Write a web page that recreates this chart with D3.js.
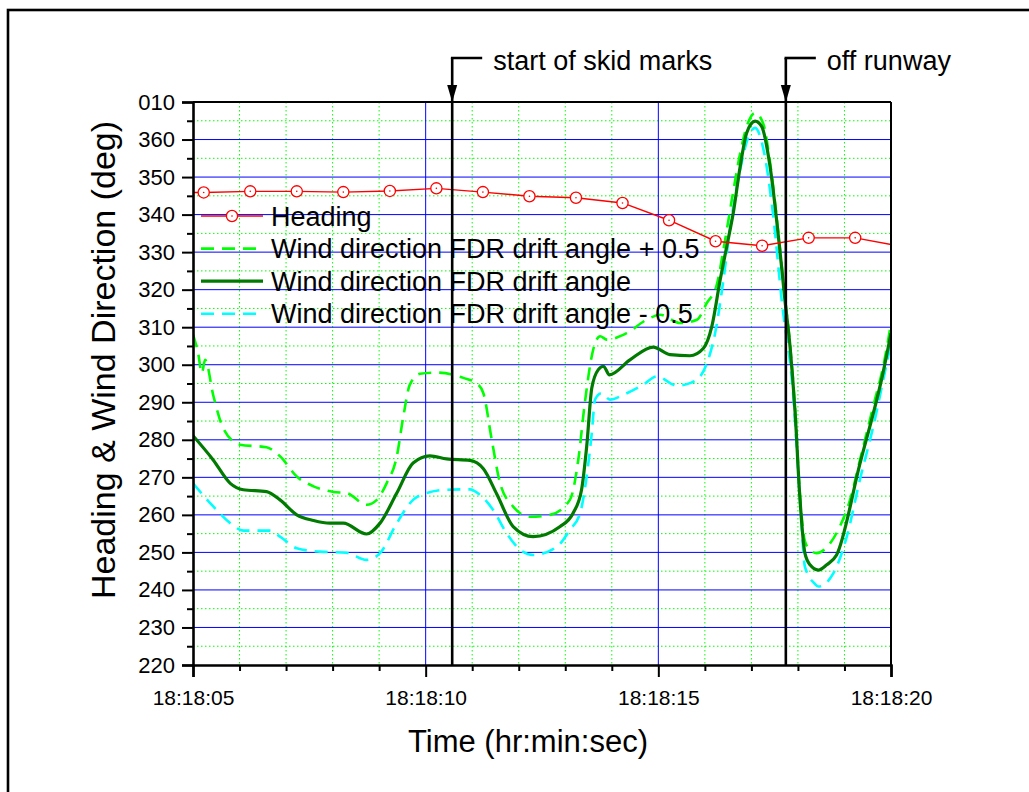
<!DOCTYPE html>
<html>
<head>
<meta charset="utf-8">
<script src="https://cdn.jsdelivr.net/npm/d3@7"></script>
<style>
  html, body { margin: 0; padding: 0; background: #fff; }
  svg { display: block; font-family: "Liberation Sans", Arial, Helvetica, sans-serif; }
</style>
</head>
<body>
<svg id="chart" width="1029" height="792"></svg>
<script>
// ---- data (time in seconds after 18:18:05, direction in degrees) ----
const startClock = "18:18:05";
const timeSpan = 15;

const headingTimes  = [-0.77, 0.23, 1.23, 2.23, 3.23, 4.23, 5.23, 6.23, 7.23, 8.23, 9.23, 10.23, 11.23, 12.23, 13.23, 14.23, 15.23];
const headingValues = [345.9, 345.9, 346.2, 346.2, 346.0, 346.3, 347.0, 346.0, 344.9, 344.5, 343.1, 338.5, 332.9, 331.7, 333.8, 333.8, 331.5];

const windDrift = [
  [0.00, 281.1], [0.43, 274.7], [0.80, 268.4], [1.08, 266.7], [1.58, 266.2], [1.87, 264.0],
  [2.23, 260.0], [2.59, 258.5], [2.94, 257.8], [3.23, 257.8], [3.73, 254.9], [4.02, 257.8],
  [4.38, 265.8], [4.73, 273.8], [5.09, 275.7], [5.45, 274.9], [5.95, 274.5], [6.24, 272.3],
  [6.53, 265.5], [6.88, 256.9], [7.31, 254.2], [7.89, 256.9], [8.17, 260.5], [8.35, 266.7],
  [8.46, 278.2], [8.57, 293.8], [8.71, 298.7], [8.82, 299.6], [8.95, 297.3], [9.39, 301.3],
  [9.89, 304.7], [10.25, 302.7], [10.68, 302.4], [10.97, 304.4], [11.15, 310.2], [11.33, 322.7],
  [11.47, 331.5], [11.61, 340.4], [11.76, 352.9], [11.90, 361.8], [12.08, 364.9], [12.22, 363.5],
  [12.40, 352.9], [12.61, 330.7], [12.72, 317.3], [12.83, 304.9], [12.94, 287.1], [13.04, 264.9],
  [13.15, 249.8], [13.26, 246.7], [13.44, 245.3], [13.62, 246.7], [13.83, 249.3], [14.33, 273.5],
  [14.84, 298.5], [15.00, 308.4]
];

const windDriftPlus = [
  [0.00, 308.0], [0.11, 303.1], [0.19, 297.8], [0.26, 301.3], [0.44, 291.6], [0.65, 283.1],
  [1.01, 278.7], [1.58, 278.0], [1.87, 275.6], [2.23, 270.2], [2.59, 267.6], [3.02, 266.1],
  [3.30, 265.8], [3.73, 262.7], [3.95, 264.0], [4.16, 268.4], [4.38, 275.6], [4.52, 286.2],
  [4.66, 294.7], [4.88, 297.6], [5.24, 297.9], [5.81, 296.5], [6.10, 295.0], [6.24, 292.4],
  [6.42, 280.0], [6.60, 268.4], [6.88, 262.2], [7.24, 259.5], [7.67, 260.0], [8.10, 264.0],
  [8.28, 274.7], [8.42, 289.8], [8.60, 304.0], [8.75, 307.6], [8.89, 306.7], [9.32, 308.4],
  [9.75, 312.0], [10.04, 313.3], [10.47, 311.1], [10.83, 312.0], [11.04, 316.4], [11.26, 321.5],
  [11.40, 330.7], [11.58, 344.0], [11.76, 356.4], [11.90, 363.5], [12.08, 367.1], [12.26, 364.0],
  [12.40, 354.0], [12.61, 331.5], [12.72, 318.0], [12.83, 305.5], [12.94, 288.0], [13.04, 266.0],
  [13.15, 253.0], [13.26, 250.7], [13.40, 249.8], [13.69, 252.4], [13.90, 256.9], [14.12, 264.0],
  [14.33, 274.5], [14.62, 289.0], [14.84, 300.0], [15.00, 311.0]
];

const windDriftMinus = [
  [0.00, 268.4], [0.44, 262.2], [0.80, 257.8], [1.08, 255.8], [1.65, 255.8], [1.87, 254.2],
  [2.23, 251.1], [2.73, 250.2], [3.30, 249.9], [3.73, 248.0], [4.02, 249.8], [4.38, 257.8],
  [4.73, 264.0], [5.02, 265.8], [5.45, 266.7], [5.95, 266.8], [6.17, 265.3], [6.45, 261.3],
  [6.74, 255.1], [7.03, 250.7], [7.31, 249.3], [7.82, 251.5], [8.10, 256.0], [8.32, 260.5],
  [8.46, 270.2], [8.57, 281.8], [8.64, 290.7], [8.78, 292.4], [8.96, 290.7], [9.25, 292.0],
  [9.68, 294.7], [9.97, 296.9], [10.40, 294.4], [10.68, 295.1], [10.90, 296.9], [11.07, 301.3],
  [11.22, 308.4], [11.40, 322.7], [11.56, 338.0], [11.76, 352.0], [11.93, 360.5], [12.08, 363.1],
  [12.26, 357.3], [12.47, 339.6], [12.65, 317.3], [12.90, 291.6], [13.04, 264.9], [13.15, 246.2],
  [13.35, 241.8], [13.44, 240.9], [13.76, 244.4], [14.05, 254.2], [14.33, 269.3], [14.62, 283.6],
  [14.91, 300.5], [15.00, 305.8]
];

const yTickValues = d3.range(220, 371, 10);
const seriesNames = [
  "Heading",
  "Wind direction FDR drift angle + 0.5",
  "Wind direction FDR drift angle",
  "Wind direction FDR drift angle - 0.5"
];
const events = [
  { t: 5.57, label: "start of skid marks" },
  { t: 12.74, label: "off runway" }
];

// ---- layout ----
const svg = d3.select("#chart");
const plot = { left: 193, top: 102, right: 891, bottom: 665 };

const t0 = d3.timeParse("%H:%M:%S")(startClock);
const toDate = s => new Date(t0.getTime() + s * 1000);

const x = d3.scaleTime()
  .domain([toDate(0), toDate(timeSpan)])
  .range([plot.left, plot.right]);
const y = d3.scaleLinear()
  .domain([220, 370])
  .range([plot.bottom, plot.top]);

const fmtClock = d3.timeFormat("%H:%M:%S");
const fmtDeg = v => v > 360 ? String(v - 360).padStart(3, "0") : String(v);

// outer frame
svg.append("rect")
  .attr("x", 8).attr("y", 10).attr("width", 1060).attr("height", 820)
  .attr("fill", "none").attr("stroke", "#000").attr("stroke-width", 2.6);

// ---- grid ----
const grid = svg.append("g");
const minorSec = d3.range(1, timeSpan).filter(s => s % 5 !== 0);
const majorSec = d3.range(5, timeSpan, 5);
const minorDeg = d3.range(225, 370, 10);
const majorDeg = d3.range(230, 370, 10);

grid.selectAll(".vminor").data(minorSec).join("line")
  .attr("x1", s => x(toDate(s))).attr("x2", s => x(toDate(s)))
  .attr("y1", plot.top).attr("y2", plot.bottom)
  .attr("stroke", "#00ff00").attr("stroke-width", 1).attr("stroke-dasharray", "1.5,2.5");
grid.selectAll(".hminor").data(minorDeg).join("line")
  .attr("x1", plot.left).attr("x2", plot.right)
  .attr("y1", d => y(d)).attr("y2", d => y(d))
  .attr("stroke", "#00ff00").attr("stroke-width", 1).attr("stroke-dasharray", "1.5,2.5");
grid.selectAll(".vmajor").data(majorSec).join("line")
  .attr("x1", s => x(toDate(s))).attr("x2", s => x(toDate(s)))
  .attr("y1", plot.top).attr("y2", plot.bottom)
  .attr("stroke", "#0000ff").attr("stroke-width", 1);
grid.selectAll(".hmajor").data(majorDeg).join("line")
  .attr("x1", plot.left).attr("x2", plot.right)
  .attr("y1", d => y(d)).attr("y2", d => y(d))
  .attr("stroke", "#0000ff").attr("stroke-width", 1);

// ---- series ----
svg.append("clipPath").attr("id", "plotClip")
  .append("rect")
  .attr("x", plot.left).attr("y", plot.top)
  .attr("width", plot.right - plot.left).attr("height", plot.bottom - plot.top);

const series = svg.append("g").attr("clip-path", "url(#plotClip)");
const line = d3.line()
  .x(d => x(toDate(d[0])))
  .y(d => y(d[1]))
  .curve(d3.curveMonotoneX);

series.append("path").datum(windDriftMinus)
  .attr("d", line).attr("fill", "none")
  .attr("stroke", "#00ffff").attr("stroke-width", 2.6).attr("stroke-dasharray", "13,8");
series.append("path").datum(windDriftPlus)
  .attr("d", line).attr("fill", "none")
  .attr("stroke", "#00ff00").attr("stroke-width", 2.6).attr("stroke-dasharray", "13,8");
series.append("path").datum(windDrift)
  .attr("d", line).attr("fill", "none")
  .attr("stroke", "#007a00").attr("stroke-width", 3.2);

const heading = headingTimes.map((t, i) => [t, headingValues[i]]);
series.append("path").datum(heading)
  .attr("d", d3.line().x(d => x(toDate(d[0]))).y(d => y(d[1])))
  .attr("fill", "none").attr("stroke", "#ff0000").attr("stroke-width", 1.4);

function drawMarker(g, cx, cy) {
  g.append("circle").attr("cx", cx).attr("cy", cy).attr("r", 5.6)
    .attr("fill", "#fff").attr("stroke", "#ff0000").attr("stroke-width", 1.3);
  g.append("circle").attr("cx", cx).attr("cy", cy).attr("r", 0.8).attr("fill", "#ff0000");
}
heading.forEach(d => drawMarker(series, x(toDate(d[0])), y(d[1])));

// ---- axes ----
const axisG = svg.append("g");
// frame top and right
axisG.append("line").attr("x1", plot.left).attr("x2", plot.right)
  .attr("y1", plot.top).attr("y2", plot.top).attr("stroke", "#000").attr("stroke-width", 2);
axisG.append("line").attr("x1", plot.right).attr("x2", plot.right)
  .attr("y1", plot.top).attr("y2", plot.bottom).attr("stroke", "#000").attr("stroke-width", 2);

// left axis: major ticks every 10, minor ticks every 5
const yAxis = d3.axisLeft(y).tickValues(yTickValues).tickFormat(fmtDeg).tickSize(11).tickPadding(7);
const yg = svg.append("g").attr("transform", `translate(${plot.left},0)`).call(yAxis);
yg.select(".domain").attr("stroke-width", 2.6);
yg.selectAll(".tick line").attr("stroke-width", 2);
yg.selectAll(".tick text").attr("font-size", 22).attr("fill", "#000")
  .attr("font-family", "Liberation Sans, Arial, sans-serif");
const yMinor = d3.axisLeft(y).tickValues(minorDeg).tickFormat("").tickSize(6);
const ygm = svg.append("g").attr("transform", `translate(${plot.left},0)`).call(yMinor);
ygm.select(".domain").remove();
ygm.selectAll(".tick line").attr("stroke-width", 2);

// bottom axis: labels every 5 s, minor ticks every 1 s
const xAxis = d3.axisBottom(x)
  .tickValues(d3.range(0, timeSpan + 1, 5).map(toDate))
  .tickFormat(fmtClock).tickSize(12).tickPadding(13);
const xg = svg.append("g").attr("transform", `translate(0,${plot.bottom})`).call(xAxis);
xg.select(".domain").attr("stroke-width", 2.6);
xg.selectAll(".tick line").attr("stroke-width", 2);
xg.selectAll(".tick text").attr("font-size", 21).attr("fill", "#000")
  .attr("font-family", "Liberation Sans, Arial, sans-serif");
const xMinor = d3.axisBottom(x).tickValues(minorSec.map(toDate)).tickFormat("").tickSize(6);
const xgm = svg.append("g").attr("transform", `translate(0,${plot.bottom})`).call(xMinor);
xgm.select(".domain").remove();
xgm.selectAll(".tick line").attr("stroke-width", 2);

// axis titles
svg.append("text")
  .attr("x", (plot.left + plot.right) / 2 - 14).attr("y", 752)
  .attr("text-anchor", "middle").attr("font-size", 31).attr("fill", "#000")
  .text("Time (hr:min:sec)");
svg.append("text")
  .attr("transform", "translate(115,360) rotate(-90)")
  .attr("text-anchor", "middle").attr("font-size", 34).attr("fill", "#000")
  .text("Heading & Wind Direction (deg)");

// ---- event markers ----
const ev = svg.append("g");
events.forEach(e => {
  const ex = x(toDate(e.t));
  ev.append("line").attr("x1", ex).attr("x2", ex)
    .attr("y1", 58).attr("y2", plot.bottom)
    .attr("stroke", "#000").attr("stroke-width", 2.6);
  ev.append("line").attr("x1", ex - 1.3).attr("x2", ex + 30)
    .attr("y1", 58).attr("y2", 58)
    .attr("stroke", "#000").attr("stroke-width", 2.6);
  ev.append("path")
    .attr("d", `M${ex - 5},${plot.top - 17} L${ex + 5},${plot.top - 17} L${ex},${plot.top} Z`)
    .attr("fill", "#000");
  ev.append("text").attr("x", ex + 41).attr("y", 70)
    .attr("font-size", 27).attr("fill", "#000").text(e.label);
});

// ---- legend ----
const legend = svg.append("g").attr("transform", "translate(201,216)");
const rowGap = 32.6;
const legendStyles = [
  { stroke: "#ff0000", width: 1.4, dash: null, marker: true },
  { stroke: "#00ff00", width: 2.6, dash: "13,8" },
  { stroke: "#007a00", width: 3.2, dash: null },
  { stroke: "#00ffff", width: 2.6, dash: "13,8" }
];
seriesNames.forEach((name, i) => {
  const st = legendStyles[i];
  const ry = i * rowGap;
  legend.append("line").attr("x1", 0).attr("x2", 62).attr("y1", ry).attr("y2", ry)
    .attr("stroke", st.stroke).attr("stroke-width", st.width)
    .attr("stroke-dasharray", st.dash);
  if (st.marker) drawMarker(legend, 31, ry);
  legend.append("text").attr("x", 70).attr("y", ry + 9.5)
    .attr("font-size", 27).attr("fill", "#000").text(name);
});
</script>
</body>
</html>
